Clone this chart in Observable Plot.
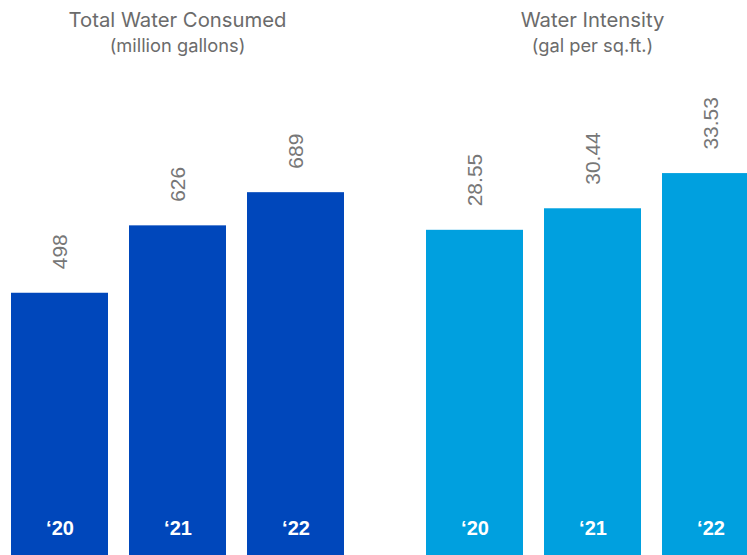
<!DOCTYPE html>
<html>
<head>
<meta charset="utf-8">
<script src="https://cdn.jsdelivr.net/npm/d3@7"></script>
<script src="https://cdn.jsdelivr.net/npm/@observablehq/plot@0.6"></script>
<style>
  html, body { margin: 0; padding: 0; overflow: hidden; background: #fff; }
  #wrap { position: relative; width: 747px; height: 555px; overflow: hidden; }
  .panel { position: absolute; top: 0; }
  .head { position: absolute; top: 0; height: 70px; text-align: center; color: #6b6b6b; font-family: Inter, Roboto, sans-serif; }
  .title { font-size: 20.3px; line-height: 24px; margin-top: 7.5px; white-space: nowrap; }
  .sub { font-size: 18.3px; line-height: 20px; margin-top: 3.8px; white-space: nowrap; }
  .chart { position: absolute; top: 70px; left: 0; }
</style>
</head>
<body>
<div id="wrap"></div>
<script>
// Data
const years = ["\u201820", "\u201821", "\u201822"];
const waterConsumed = [498, 626, 689];          // million gallons
const waterIntensity = [28.55, 30.44, 33.53];   // gal per sq.ft.
const intensityLabels = ["28.55", "30.44", "33.53"];
const consumedLabels = ["498", "626", "689"];

const panels = [
  {title: "Total Water Consumed", sub: "(million gallons)", values: waterConsumed, labels: consumedLabels,
   color: "#0047BB", left: 0, width: 373, marginLeft: 11, marginRight: 29, yMax: 921},
  {title: "Water Intensity", sub: "(gal per sq.ft.)", values: waterIntensity, labels: intensityLabels,
   color: "#00A0DF", left: 373, width: 400, marginLeft: 53, marginRight: 14, yMax: 42.58}
];

const wrap = document.getElementById("wrap");
for (const p of panels) {
  const data = years.map((y, i) => ({year: y, value: p.values[i], label: p.labels[i]}));
  const panel = document.createElement("div");
  panel.className = "panel";
  panel.style.left = p.left + "px";
  panel.style.width = p.width + "px";
  panel.style.height = "555px";

  const head = document.createElement("div");
  head.className = "head";
  head.style.left = p.marginLeft + "px";
  head.style.width = (p.width - p.marginLeft - p.marginRight) + "px";
  head.innerHTML = `<div class="title">${p.title}</div><div class="sub">${p.sub}</div>`;
  panel.appendChild(head);

  const chart = Plot.plot({
    width: p.width,
    height: 485,
    marginLeft: p.marginLeft,
    marginRight: p.marginRight,
    marginTop: 0,
    marginBottom: 0,
    x: {domain: years, paddingInner: 0.18, paddingOuter: 0, axis: null},
    y: {domain: [0, p.yMax], axis: null},
    marks: [
      Plot.barY(data, {x: "year", y: "value", fill: p.color}),
      Plot.text(data, {x: "year", y: "value", text: "label", rotate: -90, textAnchor: "start",
        lineAnchor: "middle", dy: -24, fill: "#777", fontSize: 21,
        fontFamily: "'Liberation Sans', Arial, sans-serif"}),
      Plot.text(data, {x: "year", y: () => 0, text: "year", lineAnchor: "bottom", dy: -21,
        fill: "white", fontSize: 20, fontWeight: "bold",
        fontFamily: "'Liberation Sans', Arial, sans-serif"})
    ]
  });
  const holder = document.createElement("div");
  holder.className = "chart";
  holder.appendChild(chart);
  panel.appendChild(holder);
  wrap.appendChild(panel);
}
</script>
</body>
</html>
